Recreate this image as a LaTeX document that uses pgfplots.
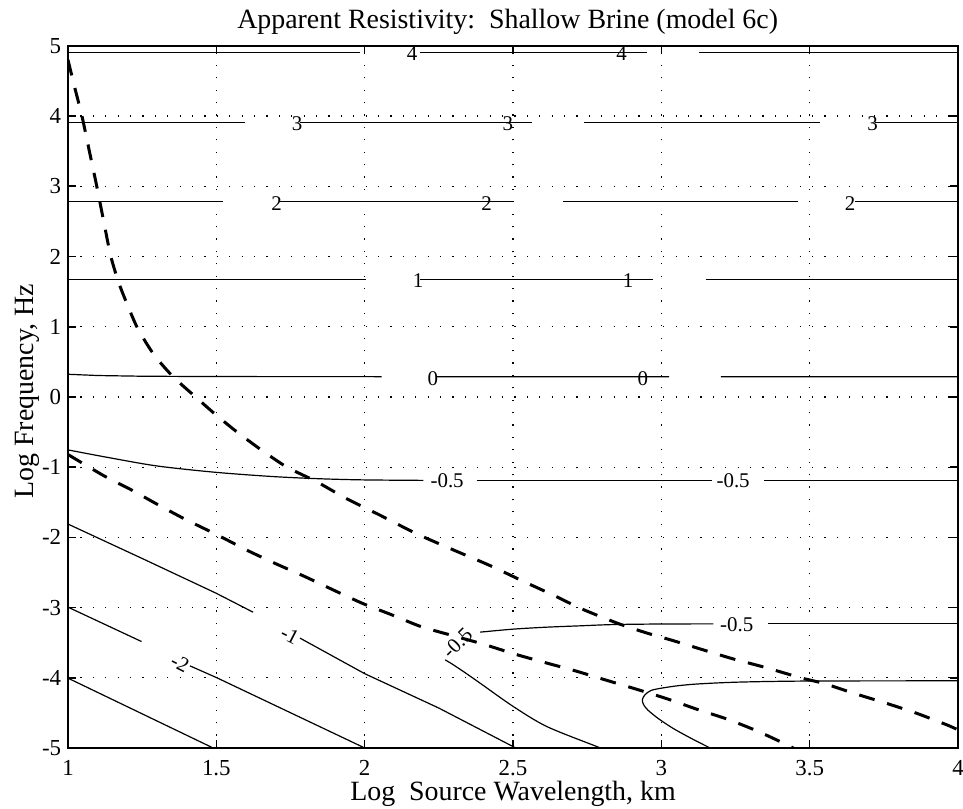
\documentclass[border=0pt]{standalone}
\usepackage{fontspec}
\setmainfont{Liberation Serif}
\usepackage{pgfplots}
\pgfplotsset{compat=1.18}

\begin{document}
\begin{tikzpicture}
\path[use as bounding box] (-34bp,-30bp) rectangle (447.5bp,374.05bp);
\begin{axis}[
    scale only axis,
    width=445bp, height=351.15bp,
    xmin=1, xmax=4, ymin=-5, ymax=5,
    xtick={1,1.5,2,2.5,3,3.5,4},
    ytick={-5,-4,-3,-2,-1,0,1,2,3,4,5},
    xticklabels={1,1.5,2,2.5,3,3.5,4},
    yticklabels={-5,-4,-3,-2,-1,0,1,2,3,4,5},
    tick align=inside, tick pos=both,
    major tick length=4bp,
    tick style={black, line width=0.8bp},
    axis line style={line width=0.8bp},
    grid=major,
    major grid style={black, line width=0.6bp, dash pattern=on 0.6bp off 5.6bp},
    unbounded coords=jump,
    every tick label/.append style={font=\fontsize{11.5}{13}\selectfont},
    xticklabel style={anchor=north, inner sep=0pt, yshift=-6bp},
    yticklabel style={anchor=east, inner sep=0pt, xshift=-3.2bp},
    every axis title shift=0pt,
    title={Apparent Resistivity:\ \ Shallow Brine (model 6c)},
    title style={at={(axis description cs:0.494,1.0252)}, anchor=base, inner sep=0pt, font=\fontsize{14}{16}\selectfont},
    xlabel={Log\ \ Source Wavelength, km},
    xlabel style={at={(axis description cs:0.5,-0.074)}, anchor=base, inner sep=0pt, font=\fontsize{14}{16}\selectfont},
    ylabel={Log Frequency, Hz},
    ylabel style={at={(axis description cs:-0.0393,0.508)}, anchor=base, inner sep=0pt, font=\fontsize{14}{16}\selectfont},
    clip=true,
]

% contour levels (solid)
\addplot[black, line width=0.6bp] coordinates {
  (1,4.906) (1.984,4.906) (2.0,nan)
  (2.187,4.906) (2.951,4.906) (3.0,nan)
  (3.127,4.906) (4,4.906)
};
\addplot[black, line width=0.6bp] coordinates {
  (1,3.904) (1.597,3.904) (1.7,nan)
  (1.782,3.904) (2.563,3.904) (2.6,nan)
  (2.740,3.904) (3.535,3.904) (3.6,nan)
  (3.720,3.904) (4,3.904)
};
\addplot[black, line width=0.6bp] coordinates {
  (1,2.78) (1.523,2.78) (1.6,nan)
  (1.715,2.78) (2.496,2.78) (2.6,nan)
  (2.670,2.78) (3.462,2.78) (3.5,nan)
  (3.653,2.78) (4,2.78)
};
\addplot[black, line width=0.6bp] coordinates {
  (1,1.675) (2.004,1.675) (2.1,nan)
  (2.187,1.675) (2.973,1.675) (3.0,nan)
  (3.150,1.675) (4,1.675)
};
\addplot[black, line width=0.6bp] coordinates {
  (1,0.323) (1.1,0.305) (1.25,0.295) (1.5,0.290) (2.057,0.289) (2.1,nan)
  (2.244,0.289) (3.026,0.289) (3.1,nan)
  (3.201,0.289) (4,0.289)
};
\addplot[black, line width=0.6bp, smooth, tension=0.5] coordinates {
  (1.0,-0.754) (1.130,-0.858) (1.299,-0.982) (1.495,-1.072) (1.692,-1.134)
  (1.850,-1.165) (1.995,-1.181) (2.198,-1.188)
};
\addplot[black, line width=0.6bp] coordinates {
  (2.378,-1.19) (3.170,-1.19) (3.2,nan)
  (3.346,-1.19) (4,-1.19)
};
% lower -0.5 contour
\addplot[black, line width=0.6bp, smooth, tension=0.5] coordinates {
  (2.795,-5.0) (2.782,-4.977) (2.614,-4.693) (2.501,-4.408) (2.389,-4.075)
  (2.333,-3.910) (2.290,-3.790) (2.271,-3.743)
};
\addplot[black, line width=0.6bp, smooth, tension=0.5] coordinates {
  (2.389,-3.349) (2.501,-3.306) (2.614,-3.278) (2.726,-3.259)
  (2.838,-3.241) (3.0,-3.233) (3.175,-3.231)
};
\addplot[black, line width=0.6bp] coordinates {
  (3.361,-3.231) (4,-3.231)
};
% closed-nose contour lower right
\addplot[black, line width=0.6bp, smooth, tension=0.5] coordinates {
  (3.165,-5.0) (3.10,-4.86) (3.04,-4.72) (2.99,-4.58) (2.955,-4.46)
  (2.940,-4.38) (2.936,-4.31) (2.945,-4.24) (2.965,-4.18) (3.001,-4.146)
  (3.06,-4.11) (3.130,-4.085) (3.265,-4.06) (3.501,-4.045) (4,-4.042)
};
% -1 contour
\addplot[black, line width=0.6bp] coordinates {
  (1,-1.81) (1.25,-2.30) (1.499,-2.794) (1.624,-3.065) (1.7,nan)
  (1.782,-3.434) (2.0,-3.94) (2.25,-4.43) (2.51,-5.0)
};
% -2 contour
\addplot[black, line width=0.6bp] coordinates {
  (1,-2.993) (1.248,-3.483) (1.3,nan)
  (1.411,-3.829) (1.5,-3.995) (1.999,-4.996)
};
% -3 contour
\addplot[black, line width=0.6bp] coordinates {
  (1,-4.004) (1.49,-5.0)
};

% dashed curves
\addplot[black, line width=1.5bp, dash pattern=on 8bp off 6.5bp, smooth, tension=0.4] coordinates {
  (1.000,4.80) (1.020,4.45) (1.047,4.00) (1.072,3.50) (1.097,3.00)
  (1.125,2.40) (1.145,1.99) (1.175,1.58) (1.232,1.00) (1.290,0.60)
  (1.354,0.289) (1.430,0.00) (1.500,-0.26) (1.570,-0.50) (1.650,-0.75)
  (1.738,-1.00) (1.835,-1.20) (1.940,-1.45) (2.050,-1.68) (2.176,-1.95)
  (2.300,-2.18) (2.422,-2.40) (2.537,-2.63) (2.635,-2.82) (2.733,-3.02)
  (2.857,-3.23) (2.950,-3.36) (3.040,-3.47) (3.140,-3.60) (3.242,-3.73)
  (3.349,-3.85) (3.471,-4.00) (3.548,-4.08) (3.649,-4.22) (3.757,-4.36)
  (3.858,-4.50) (3.963,-4.67) (4.000,-4.74)
};
\addplot[black, line width=1.5bp, dash pattern=on 8bp off 6.5bp, smooth, tension=0.4] coordinates {
  (1.000,-0.82) (1.120,-1.12) (1.212,-1.32) (1.310,-1.55) (1.399,-1.75)
  (1.501,-1.96) (1.607,-2.19) (1.698,-2.37) (1.797,-2.555) (1.895,-2.75)
  (1.993,-2.94) (2.090,-3.10) (2.190,-3.27) (2.298,-3.40) (2.400,-3.52)
  (2.505,-3.66) (2.606,-3.78) (2.710,-3.90) (2.812,-4.03) (2.915,-4.16)
  (3.021,-4.30) (3.122,-4.45) (3.224,-4.59) (3.325,-4.76) (3.422,-4.95)
  (3.445,-5.00)
};

% contour labels
\begin{scope}[every node/.style={font=\fontsize{10.5}{12}\selectfont, inner sep=0pt}]
\node at (axis cs:2.160,4.89) {4};
\node at (axis cs:2.866,4.89) {4};
\node at (axis cs:1.772,3.885) {3};
\node at (axis cs:2.483,3.885) {3};
\node at (axis cs:3.712,3.885) {3};
\node at (axis cs:1.703,2.754) {2};
\node at (axis cs:2.411,2.754) {2};
\node at (axis cs:3.636,2.754) {2};
\node at (axis cs:2.180,1.654) {1};
\node at (axis cs:2.888,1.654) {1};
\node at (axis cs:2.230,0.266) {0};
\node at (axis cs:2.938,0.266) {0};
\node at (axis cs:2.278,-1.196) {-0.5};
\node at (axis cs:3.242,-1.196) {-0.5};
\node at (axis cs:3.254,-3.245) {-0.5};
\node[rotate=45] at (axis cs:2.312,-3.505) {-0.5};
\node[rotate=-27] at (axis cs:1.748,-3.39) {-1};
\node[rotate=-27] at (axis cs:1.378,-3.79) {-2};
\end{scope}
\end{axis}
\end{tikzpicture}
\end{document}
